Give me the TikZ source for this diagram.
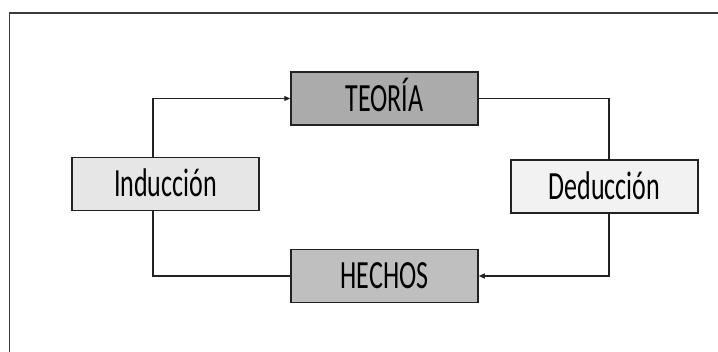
\documentclass[tikz,border=0pt]{standalone}
\usepackage{fontspec}
\setmainfont{Carlito}
\usetikzlibrary{arrows.meta}
\definecolor{frame}{HTML}{3C3C3C}
\definecolor{line}{HTML}{222222}
\definecolor{teofill}{HTML}{ABABAB}
\definecolor{hecfill}{HTML}{BFBFBF}
\definecolor{indfill}{HTML}{E6E6E6}
\definecolor{dedfill}{HTML}{F2F2F2}
\tikzset{
  box/.style={draw=line, line width=1.5pt, minimum width=187pt, minimum height=53pt,
    inner sep=0pt, text height=26pt, text depth=0pt,
    font=\fontsize{40}{44}\selectfont, text=black},
  conn/.style={draw=line, line width=1.2pt},
  arr/.style={conn, -{Triangle[length=6pt,width=5pt]}}
}
\newcommand{\sq}[1]{\scalebox{0.65}[1]{#1}}
\begin{document}
\begin{tikzpicture}[x=1pt,y=-1pt]
\useasboundingbox (0,0) rectangle (718,352);
\fill[white] (0,0) rectangle (718,352);
\draw[frame, line width=1.6pt] (9.5,353) -- (9.5,13) -- (719,13);
\node[box, fill=teofill] (teo) at (384.5,98.5) {\sq{TEORÍA}};
\node[box, fill=hecfill] (hec) at (384.5,276) {\sq{HECHOS}};
\node[box, fill=indfill] (ind) at (165.5,184) {\sq{Inducción}};
\node[box, fill=dedfill] (ded) at (604.5,186.5) {\sq{Deducción}};
\draw[arr] ([xshift=-12.5pt]ind.north) |- (teo.west);
\draw[conn] (teo.east) -| ([xshift=4.5pt]ded.north);
\draw[arr] ([xshift=4.5pt]ded.south) |- (hec.east);
\draw[conn] ([xshift=-12.5pt]ind.south) |- (hec.west);
\end{tikzpicture}
\end{document}
